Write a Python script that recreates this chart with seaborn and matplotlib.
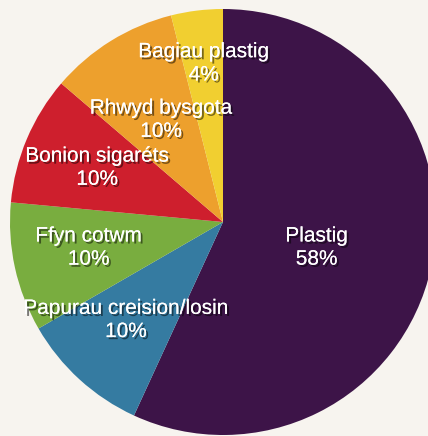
import numpy as np
import matplotlib
matplotlib.use("Agg")
import matplotlib.pyplot as plt
import matplotlib.patheffects as pe
import seaborn as sns

# slices, clockwise from 12 o'clock
categories = ["Plastig", "Papurau creision/losin", "Ffyn cotwm",
              "Bonion sigaréts", "Rhwyd bysgota", "Bagiau plastig"]
shares = [58, 10, 10, 10, 10, 4]
colors = ["#3d1448", "#357ba1", "#79ad3f", "#ce1f2d", "#eda02d", "#f1cf30"]

# label anchor points (unit-radius coords)
label_pos = [(0.44, -0.12), (-0.455, -0.46), (-0.63, -0.12),
             (-0.59, 0.255), (-0.29, 0.48), (-0.09, 0.745)]

sns.set_theme(style="white")
plt.rcParams["font.family"] = ["Liberation Sans", "DejaVu Sans"]

bg = "#f7f4ef"
fig = plt.figure(figsize=(4.28, 4.36), dpi=100, facecolor=bg)
ax = fig.add_axes([0, 0, 1, 1])
ax.set_facecolor(bg)

ax.pie(shares, colors=sns.color_palette(colors), startangle=90,
       counterclock=False, radius=1.0,
       wedgeprops=dict(linewidth=0, antialiased=True))

shadow = [pe.withSimplePatchShadow(offset=(1.5, -1.5), shadow_rgbFace="black", alpha=0.5),
          pe.Normal()]
for name, val, (x, y) in zip(categories, shares, label_pos):
    ax.text(x, y, f"{name}\n{val}%", ha="center", va="center", color="white",
            fontsize=15, linespacing=1.28, path_effects=shadow)

ax.set_xlim(-223 / 213, (428 - 223) / 213)
ax.set_ylim((222 - 436) / 213, 222 / 213)
ax.set_aspect("auto")
ax.axis("off")

fig.savefig("out.png", dpi=100, facecolor=bg)
